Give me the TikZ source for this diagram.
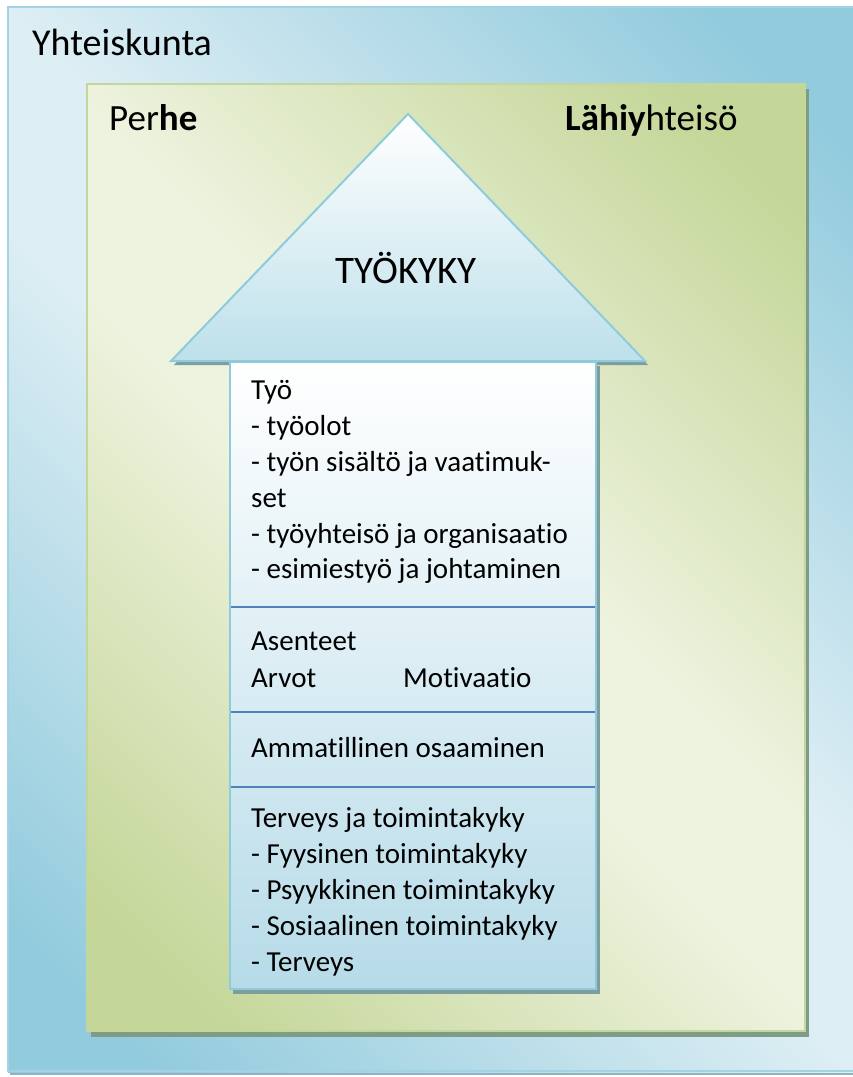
\documentclass[tikz,border=0pt]{standalone}
\usepackage{fontspec}
\setmainfont{Carlito}[Ligatures=NoCommon]
\definecolor{bluedark}{HTML}{92CBDD}
\definecolor{bluelight}{HTML}{DDEEF4}
\definecolor{blueborder}{HTML}{A3D3E3}
\definecolor{outershadow}{HTML}{8FB3C0}
\definecolor{greendark}{HTML}{C4D698}
\definecolor{greenlight}{HTML}{EEF3DF}
\definecolor{greenborder}{HTML}{C3D69B}
\definecolor{greenshadow}{HTML}{7F9C86}
\definecolor{arrowblue}{HTML}{BDE0EA}
\definecolor{boxblue}{HTML}{B6DBE8}
\definecolor{arrowborder}{HTML}{8ECBDC}
\definecolor{boxshadow}{HTML}{7D9E9C}
\definecolor{divblue}{HTML}{4F81BD}
\pgfdeclareverticalshading{reflblue}{100bp}{color(0bp)=(bluedark); color(20bp)=(bluedark); color(46bp)=(bluelight); color(54bp)=(bluelight); color(80bp)=(bluedark); color(100bp)=(bluedark)}
\pgfdeclareverticalshading{reflgreen}{100bp}{color(0bp)=(greendark); color(20bp)=(greendark); color(46bp)=(greenlight); color(54bp)=(greenlight); color(80bp)=(greendark); color(100bp)=(greendark)}
\begin{document}
\begin{tikzpicture}[x=1pt,y=-1pt,
  lbl/.style={anchor=base west, inner sep=0pt, font=\fontsize{29}{36}\selectfont},
  biglbl/.style={anchor=base west, inner sep=0pt, font=\fontsize{37}{44}\selectfont},
  divider/.style={draw=divblue, line width=2pt}]
\fill[white] (0,0) rectangle (853,1077);
\useasboundingbox (0,0) rectangle (853,1077);
% outer: Yhteiskunta
\fill[outershadow] (10,1071) rectangle (853,1075);
\shade[shading=reflblue, shading angle=-45] (8,7) rectangle (853,1072);
\draw[blueborder, line width=1.5pt] (8,1072) -- (8,7) -- (853,7);
\draw[blueborder, line width=1.5pt] (8,1071) -- (853,1071);
% green: Perhe / Lahiyhteiso
\fill[greenshadow] (91,89) rectangle (809,1037);
\shade[shading=reflgreen, shading angle=-45] (87,84) rectangle (805,1031);
\draw[greenborder, line width=1.5pt] (87,84) rectangle (805,1031);
% arrow head
\fill[boxshadow] (410,118) -- (648,365) -- (174,365) -- cycle;
\shade[top color=white, bottom color=arrowblue, draw=arrowborder, line width=2pt, line join=miter]
  (408,114) -- (645,361) -- (171,361) -- cycle;
% box
\fill[boxshadow] (233,366) rectangle (600,994);
\shade[top color=white, bottom color=boxblue, draw=arrowborder, line width=2pt]
  (230,362) rectangle (596,989);
\draw[divider] (231,607) -- (595,607);
\draw[divider] (231,712) -- (595,712);
\draw[divider] (231,787) -- (595,787);
% labels
\node[biglbl, font=\fontsize{38}{44}\selectfont] (yht) at (32,55) {Yhteiskunta};
\node[biglbl] (perhe) at (109,130) {Per\textbf{he}};
\node[biglbl] (lahi) at (565,130) {\textbf{Lähiy}hteisö};
\node[anchor=base, inner sep=0pt, font=\fontsize{39}{44}\selectfont] (tyokyky) at (406,283) {TYÖKYKY};
\node[lbl] (t1) at (251,399) {Työ};
\node[lbl] (t2) at (251,435) {- työolot};
\node[lbl] (t3) at (251,471) {- työn sisältö ja vaatimuk-};
\node[lbl] (t4) at (251,507) {set};
\node[lbl] (t5) at (251,543) {- työyhteisö ja organisaatio};
\node[lbl] (t6) at (251,578) {- esimiestyö ja johtaminen};
\node[lbl] (a1) at (251,650) {Asenteet};
\node[lbl] (a2) at (251,687) {Arvot};
\node[lbl] (a3) at (403,687) {Motivaatio};
\node[lbl] (m1) at (251,757) {Ammatillinen osaaminen};
\node[lbl] (h1) at (251,827) {Terveys ja toimintakyky};
\node[lbl] (h2) at (251,863) {- Fyysinen toimintakyky};
\node[lbl] (h3) at (251,899) {- Psyykkinen toimintakyky};
\node[lbl] (h4) at (251,935) {- Sosiaalinen toimintakyky};
\node[lbl] (h5) at (251,971) {- Terveys};
\end{tikzpicture}
\end{document}
